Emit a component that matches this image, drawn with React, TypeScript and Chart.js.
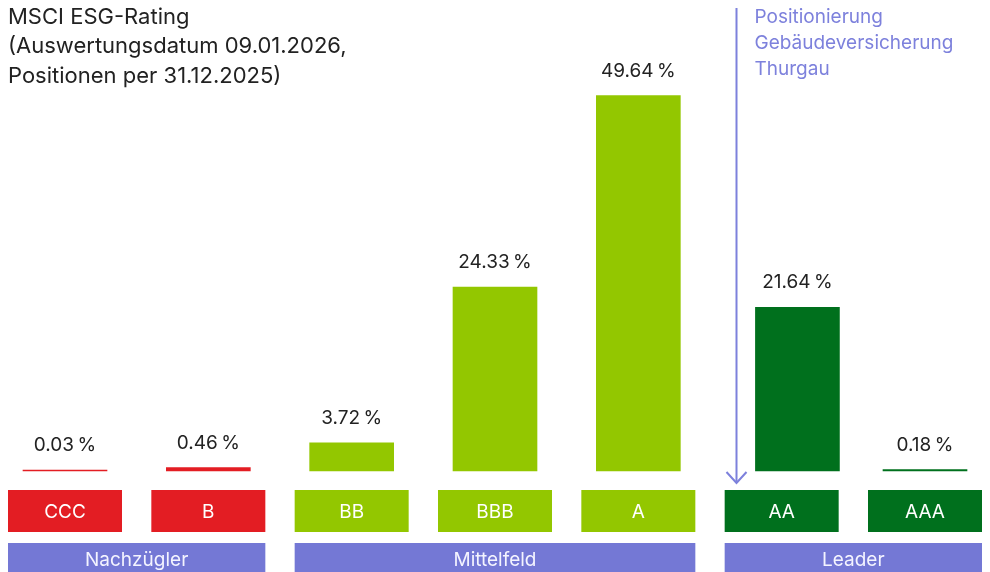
import React, { useEffect, useRef } from "react";
import { Chart, registerables } from "chart.js";

Chart.register(...registerables);

const titleLines = ["MSCI ESG-Rating", "(Auswertungsdatum 09.01.2026,", "Positionen per 31.12.2025)"];
const categories = ["CCC", "B", "BB", "BBB", "A", "AA", "AAA"];
const values = [0.03, 0.46, 3.72, 24.33, 49.64, 21.64, 0.18];
const barPositions = [0, 1, 2, 3, 4, 5.11, 6];
const categoryColors = ["#e31d23", "#e31d23", "#93c700", "#93c700", "#93c700", "#00701d", "#00701d"];
const groupLabels = ["Nachzügler", "Mittelfeld", "Leader"];
const groupStart = [0, 2, 5];
const groupEnd = [1, 4, 6];
const markerPosition = 4.68;
const markerLines = ["Positionierung", "Gebäudeversicherung", "Thurgau"];

const FONT = "Inter, 'Noto Sans', sans-serif";
const PURPLE = "#7478d5";
const ARROW = "#7d81dc";
const TEXT = "#222222";

const overlay = {
  id: "overlay",
  afterDatasetsDraw(chart: any) {
    const ctx = chart.ctx as CanvasRenderingContext2D;
    const xs = chart.scales.x;
    const meta = chart.getDatasetMeta(0);
    const half = 57;
    ctx.save();
    // title
    ctx.fillStyle = TEXT;
    ctx.font = `400 22px ${FONT}`;
    ctx.textAlign = "left";
    ctx.textBaseline = "middle";
    titleLines.forEach((t, i) => ctx.fillText(t, 8, 17 + i * 29.5));

    // value labels
    ctx.font = `400 19px ${FONT}`;
    ctx.textAlign = "center";
    ctx.textBaseline = "alphabetic";
    meta.data.forEach((bar: any, i: number) => {
      ctx.fillText(values[i].toFixed(2) + "\u2009%", bar.x, bar.y - 19);
    });

    // category boxes
    ctx.textBaseline = "middle";
    categories.forEach((c, i) => {
      const cx = xs.getPixelForValue(i);
      ctx.fillStyle = categoryColors[i];
      ctx.fillRect(cx - half, 490, half * 2, 42);
      ctx.fillStyle = "#ffffff";
      ctx.font = `400 19px ${FONT}`;
      ctx.fillText(c, cx, 512);
    });

    // group boxes
    groupLabels.forEach((g, i) => {
      const x0 = xs.getPixelForValue(groupStart[i]) - half;
      const x1 = xs.getPixelForValue(groupEnd[i]) + half;
      ctx.fillStyle = PURPLE;
      ctx.fillRect(x0, 543, x1 - x0, 40);
      ctx.fillStyle = "#f4f4ff";
      ctx.font = `400 19px ${FONT}`;
      ctx.fillText(g, (x0 + x1) / 2, 560);
    });

    // marker arrow
    const ax = Math.round(xs.getPixelForValue(markerPosition)) + 0.5;
    ctx.strokeStyle = ARROW;
    ctx.lineWidth = 2;
    ctx.beginPath();
    ctx.moveTo(ax, 8);
    ctx.lineTo(ax, 483);
    ctx.stroke();
    ctx.beginPath();
    ctx.moveTo(ax - 10, 472);
    ctx.lineTo(ax, 483);
    ctx.lineTo(ax + 10, 472);
    ctx.stroke();

    ctx.fillStyle = ARROW;
    ctx.font = `400 19px ${FONT}`;
    ctx.textAlign = "left";
    ctx.textBaseline = "middle";
    markerLines.forEach((t, i) => ctx.fillText(t, ax + 18, 17 + i * 26));
    ctx.restore();
  },
};

export default function App() {
  const ref = useRef<HTMLCanvasElement | null>(null);
  useEffect(() => {
    if (!ref.current) return;
    const chart = new Chart(ref.current, {
      type: "bar",
      data: {
        datasets: [
          {
            data: values.map((v, i) => ({ x: barPositions[i], y: v })),
            backgroundColor: categoryColors,
            barThickness: 84,
            minBarLength: 1,
            borderWidth: 0,
            clip: false,
          },
        ],
      },
      options: {
        animation: false,
        responsive: false,
        maintainAspectRatio: false,
        layout: { padding: { left: 65, right: 65, top: 55, bottom: 101 } },
        plugins: { legend: { display: false }, tooltip: { enabled: false }, title: { display: false } },
        scales: {
          x: { type: "linear", offset: false, display: false, min: 0, max: 6 },
          y: { display: false, min: 0, max: 55 },
        },
      },
      plugins: [overlay],
    });
    return () => chart.destroy();
  }, []);
  return (
    <div style={{ position: "fixed", left: 0, top: 0, width: 990, height: 572, background: "#fff" }}>
      <canvas ref={ref} width={990} height={572} style={{ width: 990, height: 572, display: "block" }} />
    </div>
  );
}
